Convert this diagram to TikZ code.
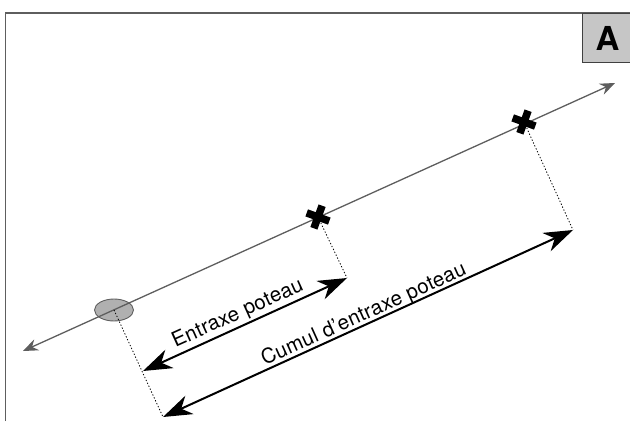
\documentclass[tikz,border=0pt]{standalone}
\usepackage{fontspec}
\setmainfont{TeX Gyre Heros}
\usetikzlibrary{arrows.meta,shapes.misc,shapes.geometric}
\definecolor{axisgray}{HTML}{5E5E5E}
\definecolor{fillgray}{HTML}{C6C6C6}
\definecolor{ellgray}{HTML}{B0B0B0}
\tikzset{
  frameline/.style={draw=axisgray,line width=1.3pt},
  axisline/.style={draw=axisgray,line width=1.3pt,{Stealth[length=15pt,width=12pt,inset=5pt]}-{Stealth[length=15pt,width=12pt,inset=5pt]}},
  dimline/.style={draw=black,line width=2pt,{Stealth[length=29pt,width=20pt,inset=9pt]}-{Stealth[length=29pt,width=20pt,inset=9pt]}},
  guide/.style={draw=black,line width=0.8pt,dash pattern=on 1.3pt off 1.9pt},
  crossmark/.style={cross out,draw=black,line width=7.5pt,minimum size=17pt,inner sep=0pt,outer sep=0pt,rotate=25},
  postmark/.style={ellipse,draw=axisgray,fill=ellgray,line width=0.9pt,minimum width=39pt,minimum height=22pt,inner sep=0pt},
  dimlabel/.style={font=\addfontfeatures{LetterSpace=1.5}\fontsize{20.5pt}{23pt}\selectfont,rotate=24.3,inner sep=0pt},
  tagbox/.style={draw=black!75,fill=fillgray,line width=1pt,minimum width=50pt,minimum height=49pt,inner sep=0pt,anchor=north west,font=\bfseries\fontsize{33pt}{35pt}\selectfont}
}
\begin{document}
\begin{tikzpicture}[x=1pt,y=-1pt]
\useasboundingbox (0,0) rectangle (630,421);
\coordinate (fbl) at (5.5,421);
\coordinate (ftl) at (5.5,13);
\coordinate (ftr) at (630,13);
\draw[frameline] (fbl) -- (ftl) -- (ftr);
\node[tagbox] (tag) at (582,13) {A};
\coordinate (axA) at (23,351);
\coordinate (axB) at (615,83);
\node[postmark] (post) at (114,310) {};
\draw[axisline] (axA) -- (axB);
\coordinate (postc) at (114,310);
\node[crossmark] (c1) at (318,217) {};
\node[crossmark] (c2) at (524,122) {};
\coordinate (d1a) at (143,371);
\coordinate (d1b) at (347,278);
\coordinate (d2a) at (163,417);
\coordinate (d2b) at (573,230);
\draw[guide] (postc) -- (d2a);
\draw[guide] (c1.center) -- (d1b);
\draw[guide] (c2.center) -- (d2b);
\draw[dimline] (d1a) -- (d1b);
\draw[dimline] (d2a) -- (d2b);
\node[dimlabel] (l1) at (238,314) {Entraxe poteau};
\node[dimlabel] (l2) at (364,315) {Cumul d’entraxe poteau};
\end{tikzpicture}
\end{document}
